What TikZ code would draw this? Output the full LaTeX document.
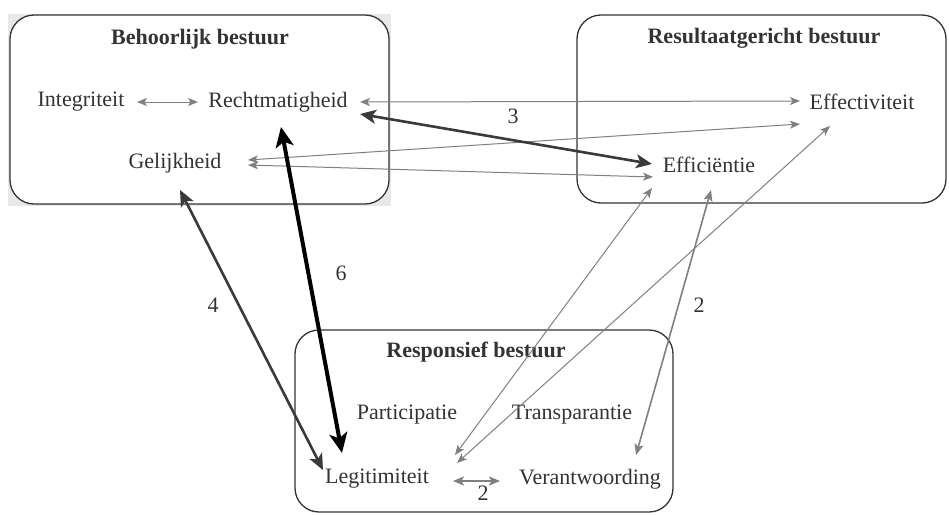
\documentclass[tikz,border=0pt]{standalone}
\usepackage{fontspec}
\setmainfont{Liberation Serif}
\usetikzlibrary{arrows.meta,calc}
\definecolor{txt}{HTML}{333333}
\definecolor{ln}{HTML}{808080}
\definecolor{dk}{HTML}{3A3A3A}
\definecolor{bgg}{HTML}{E8E8E8}
\begin{document}
\begin{tikzpicture}[x=1pt,y=-1pt,
  lbl/.style={font=\fontsize{22}{26}\selectfont, text=txt, inner sep=0pt},
  ttl/.style={font=\fontsize{22}{26}\selectfont\bfseries, text=txt, inner sep=0pt},
  grp/.style={draw=txt, line width=1.3pt, rounded corners=24pt, inner sep=0pt},
  thinarr/.style={draw=ln, line width=1pt, {Stealth[length=10pt,width=8pt,inset=2.5pt]}-{Stealth[length=10pt,width=8pt,inset=2.5pt]}},
  midarr/.style={draw=ln, line width=1.6pt, {Stealth[length=11pt,width=9pt,inset=2.5pt]}-{Stealth[length=11pt,width=9pt,inset=2.5pt]}},
  dkarr/.style={draw=dk, line width=2.6pt, {Stealth[length=16pt,width=14pt,inset=4pt]}-{Stealth[length=16pt,width=14pt,inset=4pt]}},
  blkarr/.style={draw=black, line width=4pt, {Stealth[length=20pt,width=18pt,inset=5pt]}-{Stealth[length=20pt,width=18pt,inset=5pt]}}
]
\useasboundingbox (0,0) rectangle (949,514);
\fill[white] (0,0) rectangle (949,514);
% group boxes
\fill[bgg] (8,14) rectangle (391,206);
\node[grp, fill=white, minimum width=379pt, minimum height=189pt] (g1) at (199.5,109.5) {};
\node[grp, minimum width=369pt, minimum height=188pt] (g2) at (761.5,109) {};
\node[grp, minimum width=378pt, minimum height=182pt] (g3) at (484,421) {};
\node[ttl] (t1) at (200,39) {Behoorlijk bestuur};
\node[ttl] (t2) at (764,38) {Resultaatgericht bestuur};
\node[ttl] (t3) at (476,352) {Responsief bestuur};
% concept nodes
\node[lbl] (int) at (81,102) {Integriteit};
\node[lbl] (rm) at (278,102) {Rechtmatigheid};
\node[lbl] (gel) at (175,163) {Gelijkheid};
\node[lbl] (eff) at (862,102) {Effectiviteit};
\node[lbl] (effi) at (709,165) {Efficiëntie};
\node[lbl] (part) at (407,415) {Participatie};
\node[lbl] (trans) at (572,415) {Transparantie};
\node[lbl] (leg) at (377,479) {Legitimiteit};
\node[lbl] (ver) at (590,479) {Verantwoording};
% connectors
\draw[thinarr] ($(int)+(56,0)$) -- ($(rm)+(-80,0)$);
\draw[thinarr] ($(rm)+(82,0)$) -- ($(eff)+(-62,-1)$);
\draw[thinarr] ($(gel)+(73,-3)$) -- ($(eff)+(-62,22)$);
\draw[thinarr] ($(gel)+(73,2)$) -- ($(effi)+(-56,12)$);
\draw[thinarr] ($(leg)+(78,-24)$) -- ($(effi)+(-57,23)$);
\draw[thinarr] ($(leg)+(80,-16)$) -- ($(eff)+(-32,24)$);
\draw[midarr] ($(effi)+(2,25)$) -- ($(ver)+(46,-24)$);
\draw[midarr] ($(leg)+(76,2)$) -- ($(ver)+(-90,2)$);
\draw[dkarr] ($(rm)+(82,12)$) -- ($(effi)+(-57,-1)$);
\draw[dkarr] ($(gel)+(5,27)$) -- ($(leg)+(-54,-9)$);
\draw[blkarr] ($(rm)+(3,25)$) -- ($(leg)+(-35,-26)$);
% edge labels
\node[lbl] (l3) at (513,116) {3};
\node[lbl] (l6) at (341,273) {6};
\node[lbl] (l4) at (213,305) {4};
\node[lbl] (l2a) at (699,305) {2};
\node[lbl] (l2b) at (483,493) {2};
\end{tikzpicture}
\end{document}
